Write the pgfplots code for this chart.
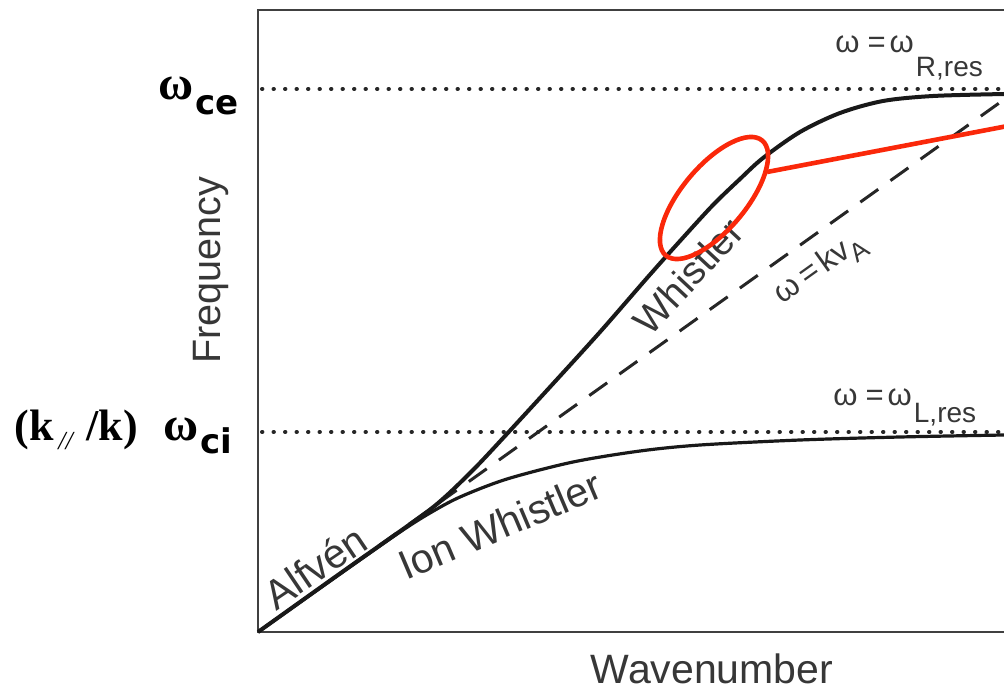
\documentclass[border=0pt]{standalone}
\usepackage{pgfplots}
\pgfplotsset{compat=1.18}
\usepackage{fontspec}
\setmainfont{Liberation Sans}
\newfontfamily\timesf{Liberation Serif}
\newfontfamily\dejavu{DejaVu Sans}
\definecolor{txt}{RGB}{55,55,55}
\definecolor{ered}{RGB}{250,40,10}
\newcommand{\fs}[1]{\fontsize{#1}{#1}\selectfont}
\begin{document}
\begin{tikzpicture}[every node/.style={inner sep=0pt}]
\useasboundingbox (0,0) rectangle (502pt,345.5pt);
\clip (0,0) rectangle (502pt,345.5pt);
\begin{axis}[
  at={(129pt,29.5pt)}, anchor=south west,
  scale only axis, width=379pt, height=311pt,
  xmin=258, xmax=1016, ymin=59, ymax=681,
  xtick=\empty, ytick=\empty,
  clip=false,
  axis line style={line width=1.3pt, black!75},
  xlabel={Wavenumber}, ylabel={Frequency},
  xlabel style={at={(rel axis cs:0.599,-0.082)}, anchor=base, font=\fs{20.5}, text=txt},
  ylabel style={at={(rel axis cs:-0.0501,0.582)}, anchor=base, font=\fs{19.8}, text=txt},
]
% resonance levels (dotted)
\addplot[no marks, line width=2pt, black!85, line cap=round, dash pattern=on 0.2pt off 5.55pt] coordinates {(262,602) (1016,602)};
\addplot[no marks, line width=2pt, black!85, line cap=round, dash pattern=on 0.2pt off 5.55pt] coordinates {(262,259) (1016,259)};
% omega = k vA (dashed)
\addplot[no marks, line width=1.5pt, black!85, dash pattern=on 11pt off 7.5pt] coordinates {(258,59) (1016,600)};
% Whistler branch
\addplot[no marks, smooth, tension=0.5, line width=2pt, black!90] coordinates {
(258,59) (340,117.5) (420,174) (445,194) (475,223) (505,255) (550,304) (600,359) (647,413) (680,450) (713,486) (740,512) (763,533) (800,559) (840,578) (883,590) (933,595) (1004,597) (1016,597)};
% Ion whistler branch
\addplot[no marks, smooth, tension=0.5, line width=1.6pt, black!90] coordinates {
(258,59) (340,117) (400,159) (430,178) (460,194) (507,212) (573,229) (640,240) (700,246) (800,251) (900,254) (1004,256) (1016,256)};
% curve labels
\node[anchor=base west, font=\fs{15.5}, text=txt] at (axis cs:835,638) {ω\hspace{4pt}=\hspace{2pt}ω\hspace{1pt}\raisebox{-12pt}{\fs{14}R,res}};
\node[anchor=base west, font=\fs{15.5}, text=txt] at (axis cs:833,286) {ω\hspace{4pt}=\hspace{2pt}ω\hspace{1pt}\raisebox{-8.5pt}{\fs{14}L,res}};
\node[anchor=base west, rotate=35.5, font=\fs{16}, text=txt] at (axis cs:782,386) {ω\hspace{3pt}=\hspace{2pt}kv\raisebox{-5pt}{\fs{13}A}};
\node[rotate=47, font=\fs{19.5}, text=txt] at (axis cs:688,415) {Whistler};
\node[rotate=34, font=\fs{20.5}, text=txt] at (axis cs:315,124) {Alfvén};
\node[rotate=23, font=\fs{20.5}, text=txt] at (axis cs:500,166) {Ion Whistler};
% left labels
\node[anchor=base west, font=\timesf\bfseries\fs{24}] at (axis cs:158,591) {ω};
\node[anchor=base west, font=\dejavu\bfseries\fs{17}] at (axis cs:195,576) {ce};
\node[anchor=base west, font=\timesf\bfseries\fs{22}] at (axis cs:14,251) {(k};
\node[anchor=base west, font=\timesf\itshape\fs{13}] at (axis cs:58,242) {//};
\node[anchor=base west, font=\timesf\bfseries\fs{22}] at (axis cs:86,251) {/k)};
\node[anchor=base west, font=\timesf\bfseries\fs{24}] at (axis cs:163,251) {ω};
\node[anchor=base west, font=\dejavu\bfseries\fs{17}] at (axis cs:200,238) {ci};
% red highlight
\draw[ered, line width=2.3pt, rotate around={50:(axis cs:714,493)}] (axis cs:714,493) ellipse [x radius=37.5pt, y radius=16pt];
\draw[ered, line width=2.3pt] (axis cs:767,519) -- (axis cs:1060,575);
\end{axis}
\end{tikzpicture}
\end{document}
